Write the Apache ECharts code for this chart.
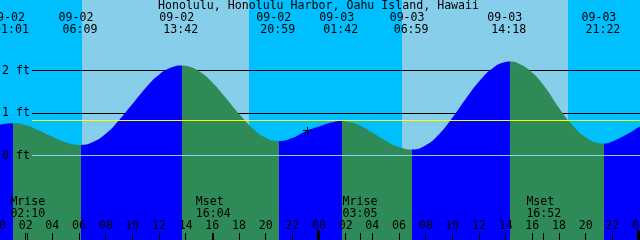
<!DOCTYPE html>
<html><head><meta charset="utf-8">
<script src="https://cdn.jsdelivr.net/npm/echarts@6/dist/echarts.min.js"></script>
<style>html,body{margin:0;padding:0;background:#fff}#c{width:640px;height:240px}</style>
</head><body><div id="c"></div>
<script>
// ---------------- data ----------------
const titleText = 'Honolulu, Honolulu Harbor, Oahu Island, Hawaii';
const extremeTimes = ['09-02 01:01','09-02 06:09','09-02 13:42','09-02 20:59','09-03 01:42','09-03 06:59','09-03 14:18','09-03 21:22'];
const extremeLevels = [0.76, 0.25, 2.12, 0.34, 0.81, 0.14, 2.21, 0.28];
// tide level, hours since 09-02 00:00
const sampleHours = [0,1,2,3,4,5,6,7,8,9,10,11,12,13,14,15,16,17,18,19,20,21,22,23,24,25,26,27,28,29,30,31,32,33,34,35,36,37,38,39,40,41,42,43,44,45,46,47,48,48.1];
const sampleLevels = [0.72,0.76,0.72,0.59,0.44,0.31,0.25,0.31,0.51,0.83,1.21,1.59,1.90,2.08,2.11,1.98,1.72,1.36,0.98,0.65,0.42,0.34,0.41,0.57,0.68,0.78,0.80,0.72,0.54,0.35,0.20,0.14,0.24,0.50,0.89,1.33,1.74,2.05,2.20,2.16,1.95,1.59,1.12,0.72,0.43,0.29,0.33,0.48,0.67,0.69];
const sunriseTimes = ['09-02 06:13','09-03 06:13'];
const sunsetTimes = ['09-02 18:45','09-03 18:42'];
const moonNames = ['Mrise','Mset','Mrise','Mset'];
const moonTimes = ['09-02 02:10','09-02 16:04','09-03 03:05','09-03 16:52'];
const tickHours = [0,2,4,6,8,10,12,14,16,18,20,22,24,26,28,30,32,34,36,38,40,42,44,46,48];
const tickLabels = ['00','02','04','06','08','10','12','14','16','18','20','22','00','02','04','06','08','10','12','14','16','18','20','22','00'];
const gridLevels = [0, 1, 2];
const gridLabels = ['0 ft', '1 ft', '2 ft'];
const meanLevel = 0.82;
const nowTime = '09-02 23:07';
const nowLevel = 0.58;

// ---------------- config ----------------
const X_MIN = 0.075, X_MAX = 48.075;
const Y_MIN = -1.988, Y_MAX = 3.659;
const NIGHT = '#00BFFF', DAY = '#87CEEB', RISE = '#0000FF', FALL = '#2E8B57';
const FONT = '11.6px "DejaVu Sans Mono"';

function toHours(s) {
  const day = parseInt(s.slice(3, 5), 10) - 2;
  const hh = parseInt(s.slice(6, 8), 10), mm = parseInt(s.slice(9, 11), 10);
  return day * 24 + hh + mm / 60;
}
const extremeHours = extremeTimes.map(toHours);
const isHigh = extremeLevels.map((v, i) => v > extremeLevels[i + 1 < extremeLevels.length ? i + 1 : i - 1]);

const tidePoints = [];
sampleHours.forEach((h, i) => {
  if (!extremeHours.some(e => Math.abs(e - h) < 0.1)) tidePoints.push([h, sampleLevels[i]]);
});
extremeHours.forEach((h, i) => tidePoints.push([h, extremeLevels[i]]));
tidePoints.sort((a, b) => a[0] - b[0]);

const pieces = [];
for (let i = 0; i <= extremeHours.length; i++) {
  let rising;
  if (i < extremeHours.length) rising = isHigh[i];
  else rising = !isHigh[i - 1];
  const p = { color: rising ? RISE : FALL };
  if (i > 0) p.gte = extremeHours[i - 1];
  if (i < extremeHours.length) p.lt = extremeHours[i];
  pieces.push(p);
}

const sr = sunriseTimes.map(toHours), ss = sunsetTimes.map(toHours);
const bands = [[X_MIN, sr[0], 0], [sr[0], ss[0], 1], [ss[0], sr[1], 0], [sr[1], ss[1], 1], [ss[1], X_MAX, 0]];

function txt(text, x, y, align) {
  return { type: 'text', style: { text: text, x: x, y: y, fill: '#000', font: FONT, align: align || 'center', verticalAlign: 'middle' } };
}
function crispY(y) { return Math.floor(y) + 0.5; }
function crispX(x) { return Math.floor(x) + 0.5; }

const chart = echarts.init(document.getElementById('c'), null, { renderer: 'canvas' });
chart.setOption({
  animation: false,
  grid: { left: 0, right: 0, top: 0, bottom: 0, containLabel: false },
  xAxis: { type: 'value', min: X_MIN, max: X_MAX, show: false },
  yAxis: { type: 'value', min: Y_MIN, max: Y_MAX, show: false },
  visualMap: { type: 'piecewise', show: false, dimension: 0, seriesIndex: 2, pieces: pieces },
  graphic: [{ type: 'text', x: 318.5, y: 5.5, z: 100, style: { text: titleText, font: FONT, fill: '#000', align: 'center', verticalAlign: 'middle' } }],
  series: [
    { // day / night background
      type: 'custom', silent: true, z: 1, data: bands,
      renderItem: function (params, api) {
        const cs = params.coordSys;
        const x0 = Math.round(api.coord([api.value(0), 0])[0]);
        const x1 = Math.round(api.coord([api.value(1), 0])[0]);
        return { type: 'rect', shape: { x: x0, y: cs.y, width: x1 - x0, height: cs.height }, style: { fill: api.value(2) ? DAY : NIGHT } };
      }
    },
    { // 1 ft, 2 ft lines (under the water)
      type: 'custom', silent: true, z: 2, data: gridLevels.filter(v => v !== 0).map(v => [X_MIN, v]),
      renderItem: function (params, api) {
        const cs = params.coordSys;
        const y = crispY(api.coord([X_MIN, api.value(1)])[1]);
        return { type: 'line', shape: { x1: cs.x + 32, y1: y, x2: cs.x + cs.width, y2: y }, style: { stroke: '#000', lineWidth: 1 } };
      }
    },
    { // tide
      type: 'line', z: 3, data: tidePoints, smooth: true, showSymbol: false, silent: true,
      lineStyle: { width: 0 }, areaStyle: { opacity: 1, origin: 'start' }
    },
    { // datum line, mean line and level labels (over the water)
      type: 'custom', silent: true, z: 4, data: gridLevels.map((v, i) => [X_MIN, v, i]),
      renderItem: function (params, api) {
        const cs = params.coordSys;
        const v = api.value(1);
        const yr = api.coord([X_MIN, v])[1];
        const children = [txt(gridLabels[api.value(2)], 2, yr, 'left')];
        if (v === 0) {
          const y = crispY(yr);
          children.push({ type: 'line', shape: { x1: cs.x + 32, y1: y, x2: cs.x + cs.width, y2: y }, style: { stroke: DAY, lineWidth: 1 } });
        }
        if (params.dataIndex === 0) {
          const ym = crispY(api.coord([X_MIN, meanLevel])[1]);
          children.push({ type: 'line', shape: { x1: cs.x + 32, y1: ym, x2: cs.x + cs.width, y2: ym }, style: { stroke: '#FFFF00', lineWidth: 1 } });
        }
        return { type: 'group', children: children };
      }
    },
    { // hour ticks and labels
      type: 'custom', silent: true, z: 5, data: tickHours.map((h, i) => [h, i]),
      renderItem: function (params, api) {
        const h = api.value(0);
        const x = api.coord([h, 0])[0];
        const children = [txt(tickLabels[api.value(1)], x, 225.5)];
        if (h % 24 === 0) children.push({ type: 'rect', shape: { x: Math.floor(x) - 2, y: 230, width: 3, height: 10 }, style: { fill: '#000' } });
        else children.push({ type: 'line', shape: { x1: crispX(x), y1: 233, x2: crispX(x), y2: 240 }, style: { stroke: '#000', lineWidth: 1 } });
        return { type: 'group', children: children };
      }
    },
    { // moon rise / set
      type: 'custom', silent: true, z: 5, data: moonTimes.map((t, i) => [toHours(t), i]),
      renderItem: function (params, api) {
        const x = api.coord([api.value(0), 0])[0];
        const i = api.value(1);
        return { type: 'group', children: [
          txt(moonNames[i], x - 17.5, 202, 'left'),
          txt(moonTimes[i].slice(6), x - 17.5, 213.8, 'left'),
          { type: 'line', shape: { x1: crispX(x), y1: 233, x2: crispX(x), y2: 240 }, style: { stroke: '#000', lineWidth: 1 } }
        ] };
      }
    },
    { // high / low tide time labels
      type: 'custom', silent: true, z: 5, data: extremeHours.map((h, i) => [h, i]),
      renderItem: function (params, api) {
        const x = api.coord([api.value(0), 0])[0];
        const s = extremeTimes[api.value(1)];
        return { type: 'group', children: [txt(s.slice(0, 5), x - 5, 17.7), txt(s.slice(6), x - 1, 29.5)] };
      }
    },
    { // current time marker
      type: 'custom', silent: true, z: 6, data: [[toHours(nowTime), nowLevel]],
      renderItem: function (params, api) {
        const p = api.coord([api.value(0), api.value(1)]);
        const x = Math.floor(p[0]), y = Math.floor(p[1]);
        return { type: 'group', children: [
          { type: 'line', shape: { x1: x - 4, y1: y + 0.5, x2: x + 5, y2: y + 0.5 }, style: { stroke: '#000', lineWidth: 1 } },
          { type: 'line', shape: { x1: x + 0.5, y1: y - 3, x2: x + 0.5, y2: y + 5 }, style: { stroke: '#000', lineWidth: 1 } }
        ] };
      }
    }
  ]
});
</script>
</body></html>
